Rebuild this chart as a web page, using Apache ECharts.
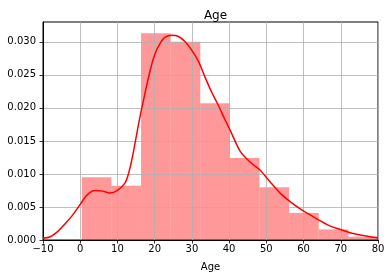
<!DOCTYPE html>
<html><head><meta charset="utf-8">
<script src="https://cdn.jsdelivr.net/npm/echarts@6/dist/echarts.min.js"></script>
<style>html,body{margin:0;padding:0;background:#fff}#c{width:390px;height:278px}</style>
</head><body><div id="c"></div>
<script>
const binEdges = [0.42, 8.378, 16.336, 24.294, 32.252, 40.21, 48.168, 56.126, 64.084, 72.042, 80.0];
const binHeights = [0.0095, 0.0082, 0.0313, 0.0300, 0.0207, 0.0124, 0.0080, 0.0041, 0.0016, 0.0005];
const kdeX = [-10, -8, -6, -4, -2, 0, 2, 4, 6, 8, 10, 12, 13, 14, 15, 16, 17.4, 18.8, 20.1, 21.5, 22.8, 24.6, 26.4, 28.2, 30, 31.8, 33.5, 35.3, 37.1, 38.9, 40.3, 43, 45.6, 48.3, 51, 53.7, 56.4, 59.1, 61.8, 64.5, 67.2, 69.8, 72.5, 75.2, 77.9, 80];
const kdeY = [0.00025, 0.0005, 0.0013, 0.0025, 0.0038, 0.0054, 0.0069, 0.0075, 0.0074, 0.0071, 0.0075, 0.0086, 0.0101, 0.0125, 0.0155, 0.0185, 0.0222, 0.0257, 0.0282, 0.0298, 0.0307, 0.0310, 0.0308, 0.0300, 0.0287, 0.0270, 0.0247, 0.0224, 0.0204, 0.0182, 0.0166, 0.0134, 0.0118, 0.0106, 0.0088, 0.0071, 0.0058, 0.0047, 0.0038, 0.0029, 0.0021, 0.0016, 0.0011, 0.00076, 0.0005, 0.00035];
const yTicks = [0, 0.005, 0.01, 0.015, 0.02, 0.025, 0.03];
const titleText = 'Age';
const xName = 'Age';

const barData = binHeights.map((h, i) => [binEdges[i], binEdges[i + 1], h]);
const lineData = kdeX.map((x, i) => [x, kdeY[i]]);
const font = 'DejaVu Sans';
const chart = echarts.init(document.getElementById('c'), null, {renderer: 'canvas'});
chart.setOption({
  animation: false,
  title: {text: titleText, left: 210.5, textAlign: 'center', top: 5,
    textStyle: {fontFamily: font, fontSize: 12, fontWeight: 'normal', color: '#000'}},
  grid: {left: 43, right: 12, top: 22, bottom: 38, show: true, borderColor: '#000', borderWidth: 1, backgroundColor: 'transparent'},
  xAxis: {type: 'value', min: -10, max: 80, interval: 10, z: 3,
    name: xName, nameLocation: 'middle', nameGap: 22,
    nameTextStyle: {fontFamily: font, fontSize: 10, color: '#000'},
    axisLine: {show: true, onZero: false, lineStyle: {color: '#000', width: 1}},
    axisTick: {show: true, length: 3.5, lineStyle: {color: '#000', width: 0.8}},
    axisLabel: {fontFamily: font, fontSize: 10, color: '#000', margin: 4,
      formatter: v => v < 0 ? '\u2212' + Math.abs(v) : String(v)},
    splitLine: {show: true, lineStyle: {color: '#b0b0b0', width: 0.8}}},
  yAxis: {type: 'value', min: 0, max: 0.033, interval: 0.005, z: 3,
    axisLine: {show: true, onZero: false, lineStyle: {color: '#000', width: 1}},
    axisTick: {show: true, length: 3.5, customValues: yTicks, lineStyle: {color: '#000', width: 0.8}},
    axisLabel: {fontFamily: font, fontSize: 10, color: '#000', margin: 7, customValues: yTicks,
      formatter: v => v.toFixed(3)},
    splitLine: {show: true, lineStyle: {color: '#b0b0b0', width: 0.8}}},
  series: [
    {type: 'custom', z: 2, data: barData,
      encode: {x: [0, 1], y: 2},
      renderItem: (params, api) => {
        const p0 = api.coord([api.value(0), 0]);
        const p1 = api.coord([api.value(1), api.value(2)]);
        return {type: 'rect', shape: {x: p0[0], y: p1[1], width: p1[0] - p0[0], height: p0[1] - p1[1]},
          style: {fill: 'rgba(255,0,0,0.4)'}};
      }},
    {type: 'line', z: 5, data: lineData, smooth: 0.3, showSymbol: false, symbol: 'none',
      lineStyle: {color: '#ff0000', width: 1.5}}
  ]
});
</script></body></html>
